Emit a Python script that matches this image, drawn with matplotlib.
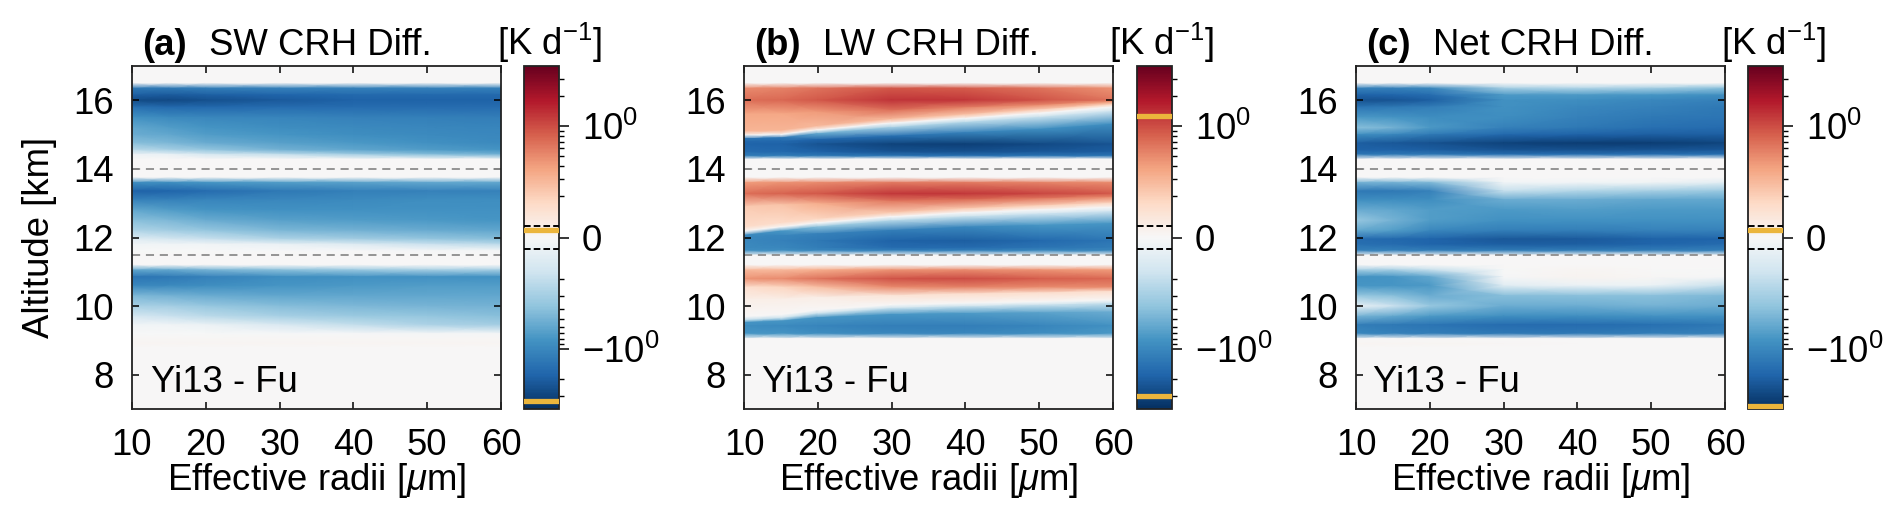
import numpy as np
import matplotlib
matplotlib.use("Agg")
import matplotlib.pyplot as plt
from matplotlib.colors import SymLogNorm

plt.rcParams['font.family'] = ['Liberation Sans', 'DejaVu Sans']
plt.rcParams['mathtext.fontset'] = 'custom'
plt.rcParams['mathtext.rm'] = 'Liberation Sans'
plt.rcParams['mathtext.it'] = 'Liberation Sans:italic'
plt.rcParams['mathtext.bf'] = 'Liberation Sans:bold'
plt.rcParams['axes.unicode_minus'] = True

# ---------- data ----------
radii = [10, 15, 20, 30, 40, 50, 60]

alt_ac = [17, 16.5, 16.35, 16.15, 16.0, 15.8, 15.5, 15.2, 15.0, 14.75, 14.55, 14.42, 14.28,
          13.75, 13.6, 13.35, 13.1, 12.8, 12.5, 12.2, 11.95, 11.8, 11.62, 11.48,
          11.2, 11.05, 10.85, 10.6, 10.3, 10.0, 9.7, 9.45, 9.2, 9.05, 8.9, 8.8, 7]

sw_diff = [
    [0, 0, 0, 0, 0, 0, 0],
    [0, 0, 0, 0, 0, 0, 0],
    [-1.3, -1.3, -1.2, -1.1, -1.1, -1.1, -1.1],
    [-2.0, -2.1, -2.0, -1.8, -1.7, -1.7, -1.7],
    [-2.6, -2.7, -2.5, -2.1, -1.9, -1.9, -1.9],
    [-1.5, -1.7, -1.7, -1.6, -1.6, -1.6, -1.6],
    [-.85, -.95, -1.0, -1.05, -1.1, -1.15, -1.2],
    [-.6, -.7, -.8, -.9, -.95, -1.0, -1.05],
    [-.55, -.6, -.7, -.8, -.9, -.95, -1.0],
    [-.4, -.45, -.55, -.65, -.75, -.85, -.95],
    [-.22, -.28, -.35, -.5, -.6, -.7, -.8],
    [-.08, -.1, -.15, -.2, -.3, -.4, -.5],
    [0, 0, 0, 0, 0, 0, 0],
    [0, 0, 0, 0, 0, 0, 0],
    [-.9, -.9, -.8, -.7, -.65, -.6, -.6],
    [-1.9, -1.8, -1.6, -1.3, -1.15, -1.1, -1.1],
    [-1.1, -1.1, -1.05, -1.0, -.95, -.9, -.9],
    [-.6, -.7, -.8, -.85, -.85, -.85, -.85],
    [-.4, -.45, -.55, -.65, -.7, -.75, -.8],
    [-.25, -.3, -.35, -.45, -.5, -.55, -.6],
    [-.12, -.15, -.18, -.25, -.3, -.35, -.4],
    [-.05, -.05, -.06, -.1, -.13, -.18, -.22],
    [-.01, -.01, -.01, -.02, -.02, -.03, -.03],
    [0, 0, 0, 0, 0, 0, 0],
    [0, 0, 0, 0, 0, 0, 0],
    [-.6, -.6, -.5, -.4, -.35, -.3, -.3],
    [-1.4, -1.3, -1.1, -.9, -.85, -.85, -.85],
    [-1.0, -.95, -.9, -.8, -.75, -.7, -.7],
    [-.45, -.5, -.55, -.6, -.6, -.6, -.6],
    [-.28, -.3, -.35, -.42, -.45, -.48, -.5],
    [-.15, -.18, -.22, -.28, -.32, -.36, -.4],
    [-.05, -.06, -.09, -.14, -.2, -.26, -.3],
    [-.01, -.01, -.01, -.02, -.02, -.03, -.03],
    [.02, .02, .02, .02, .02, .02, .02],
    [.03, .03, .03, .03, .03, .03, .03],
    [0, 0, 0, 0, 0, 0, 0],
    [0, 0, 0, 0, 0, 0, 0],
]

net_diff = [
    [0, 0, 0, 0, 0, 0, 0],
    [0, 0, 0, 0, 0, 0, 0],
    [-1.1, -1.1, -1.0, -.3, -.25, -.3, -.4],
    [-1.9, -1.8, -1.6, -.75, -.75, -.8, -.9],
    [-2.4, -2.3, -2.0, -.85, -.9, -1.0, -1.1],
    [-1.4, -1.3, -1.2, -.85, -1.0, -1.1, -1.3],
    [-.75, -.8, -.9, -.9, -1.1, -1.3, -1.4],
    [-.4, -.5, -.75, -1.1, -1.3, -1.5, -1.6],
    [-.9, -1.0, -1.3, -1.7, -1.9, -2.0, -2.0],
    [-2.0, -2.2, -2.4, -3.0, -3.3, -3.3, -2.9],
    [-1.9, -1.9, -2.0, -2.3, -2.4, -2.3, -2.2],
    [-1.3, -1.3, -1.3, -1.5, -1.5, -1.5, -1.5],
    [0, 0, 0, 0, 0, 0, 0],
    [0, 0, 0, 0, 0, 0, 0],
    [-.5, -.5, -.45, -.06, -.05, -.07, -.12],
    [-1.3, -1.3, -1.1, -.2, -.25, -.3, -.35],
    [-.9, -.9, -.9, -.55, -.55, -.6, -.6],
    [-.55, -.6, -.7, -.75, -.7, -.75, -.75],
    [-.35, -.5, -.7, -.85, -.85, -.85, -.85],
    [-.6, -.7, -1.0, -1.2, -1.2, -1.1, -1.1],
    [-1.6, -1.7, -1.8, -2.2, -2.1, -1.9, -1.8],
    [-1.5, -1.6, -1.8, -2.0, -2.0, -1.8, -1.6],
    [-1.1, -1.1, -1.2, -1.2, -1.2, -1.2, -1.1],
    [0, 0, 0, 0, 0, 0, 0],
    [0, 0, 0, 0, 0, 0, 0],
    [-.3, -.3, -.2, -.01, .03, .01, -.01],
    [-.85, -.8, -.6, -.02, .04, .02, -.02],
    [-.8, -.8, -.75, -.12, -.1, -.1, -.2],
    [-.35, -.4, -.55, -.42, -.4, -.4, -.45],
    [-.1, -.18, -.35, -.55, -.55, -.5, -.55],
    [-.5, -.6, -.75, -.9, -.9, -.85, -.85],
    [-1.2, -1.3, -1.4, -1.6, -1.6, -1.5, -1.3],
    [-1.0, -1.1, -1.2, -1.3, -1.3, -1.2, -1.1],
    [0, 0, 0, 0, 0, 0, 0],
    [.03, .03, .03, .02, .01, .01, .01],
    [0, 0, 0, 0, 0, 0, 0],
    [0, 0, 0, 0, 0, 0, 0],
]

# LW: the altitude of each row shifts with radius because the sign change does
alt_lw = [
    [17, 17, 17, 17, 17, 17, 17],
    [16.5, 16.5, 16.5, 16.5, 16.5, 16.5, 16.5],
    [16.35, 16.35, 16.35, 16.35, 16.35, 16.35, 16.35],
    [16.0, 16.0, 16.0, 16.0, 16.0, 16.0, 16.0],
    [15.6, 15.6, 15.65, 15.7, 15.78, 15.85, 15.95],
    [15.1, 15.12, 15.25, 15.45, 15.58, 15.72, 15.87],
    [14.98, 15.0, 15.13, 15.33, 15.47, 15.62, 15.8],
    [14.88, 14.9, 15.02, 15.2, 15.35, 15.5, 15.68],
    [14.8, 14.8, 14.85, 14.95, 15.05, 15.15, 15.3],
    [14.72, 14.72, 14.72, 14.72, 14.72, 14.72, 14.72],
    [14.5, 14.5, 14.5, 14.5, 14.5, 14.5, 14.5],
    [14.38, 14.38, 14.38, 14.38, 14.38, 14.38, 14.38],
    [14.28, 14.28, 14.28, 14.28, 14.28, 14.28, 14.28],
    [13.75, 13.75, 13.75, 13.75, 13.75, 13.75, 13.75],
    [13.6, 13.6, 13.6, 13.6, 13.6, 13.6, 13.6],
    [13.28, 13.28, 13.28, 13.28, 13.28, 13.28, 13.28],
    [12.9, 12.95, 12.98, 13.05, 13.1, 13.13, 13.17],
    [12.3, 12.42, 12.54, 12.72, 12.84, 12.92, 13.0],
    [12.18, 12.3, 12.42, 12.6, 12.72, 12.8, 12.88],
    [12.06, 12.18, 12.3, 12.48, 12.6, 12.68, 12.76],
    [12.0, 12.05, 12.1, 12.2, 12.3, 12.35, 12.4],
    [11.9, 11.9, 11.9, 11.9, 11.9, 11.9, 11.9],
    [11.7, 11.7, 11.7, 11.7, 11.7, 11.7, 11.7],
    [11.62, 11.62, 11.62, 11.62, 11.62, 11.62, 11.62],
    [11.48, 11.48, 11.48, 11.48, 11.48, 11.48, 11.48],
    [11.2, 11.2, 11.2, 11.2, 11.2, 11.2, 11.2],
    [11.05, 11.05, 11.05, 11.05, 11.05, 11.05, 11.05],
    [10.8, 10.8, 10.8, 10.8, 10.8, 10.8, 10.8],
    [10.55, 10.55, 10.55, 10.55, 10.55, 10.55, 10.55],
    [10.2, 10.2, 10.25, 10.3, 10.35, 10.38, 10.42],
    [9.68, 9.74, 9.88, 10.03, 10.08, 10.12, 10.17],
    [9.58, 9.64, 9.78, 9.93, 9.98, 10.02, 10.07],
    [9.52, 9.56, 9.66, 9.75, 9.78, 9.8, 9.82],
    [9.42, 9.42, 9.42, 9.42, 9.42, 9.42, 9.42],
    [9.2, 9.2, 9.2, 9.2, 9.2, 9.2, 9.2],
    [9.05, 9.05, 9.05, 9.05, 9.05, 9.05, 9.05],
    [8.8, 8.8, 8.8, 8.8, 8.8, 8.8, 8.8],
    [7, 7, 7, 7, 7, 7, 7],
]

lw_diff = [
    [0, 0, 0, 0, 0, 0, 0],
    [0, 0, 0, 0, 0, 0, 0],
    [.5, .55, .65, .9, .85, .65, .45],
    [.7, .75, .9, 1.35, 1.3, .95, .65],
    [.36, .36, .42, .65, .55, .48, .42],
    [.3, .3, .28, .28, .24, .2, .18],
    [0, 0, 0, 0, 0, 0, 0],
    [-1.4, -1.4, -.6, -.3, -.25, -.2, -.17],
    [-1.7, -1.7, -1.8, -1.5, -1.1, -.9, -.9],
    [-1.8, -1.9, -2.3, -3.0, -3.2, -2.7, -2.3],
    [-1.6, -1.7, -1.9, -2.3, -2.4, -2.2, -2.0],
    [-1.2, -1.2, -1.3, -1.4, -1.5, -1.4, -1.4],
    [0, 0, 0, 0, 0, 0, 0],
    [0, 0, 0, 0, 0, 0, 0],
    [.4, .45, .5, .6, .6, .55, .5],
    [.7, .8, .9, 1.3, 1.3, 1.1, .9],
    [.22, .24, .32, .6, .7, .6, .5],
    [.16, .16, .18, .22, .22, .2, .18],
    [0, 0, 0, 0, 0, 0, 0],
    [-1.0, -.8, -.4, -.25, -.2, -.18, -.17],
    [-1.0, -1.05, -1.1, -1.2, -1.0, -.8, -.8],
    [-1.0, -1.1, -1.3, -1.9, -2.0, -1.7, -1.4],
    [-.95, -1.0, -1.2, -1.6, -1.6, -1.4, -1.2],
    [-.9, -.9, -1.0, -1.1, -1.1, -1.0, -1.0],
    [0, 0, 0, 0, 0, 0, 0],
    [0, 0, 0, 0, 0, 0, 0],
    [.28, .28, .32, .45, .5, .45, .42],
    [.45, .5, .65, .95, 1.0, .85, .75],
    [.15, .18, .25, .5, .55, .5, .5],
    [.1, .1, .1, .13, .15, .15, .15],
    [0, 0, 0, 0, 0, 0, 0],
    [-.25, -.2, -.2, -.2, -.2, -.2, -.2],
    [-.8, -.8, -.8, -.8, -.75, -.65, -.55],
    [-.9, -.95, -1.05, -1.2, -1.2, -1.05, -.85],
    [-.8, -.8, -.9, -1.0, -1.0, -.9, -.75],
    [0, 0, 0, 0, 0, 0, 0],
    [0, 0, 0, 0, 0, 0, 0],
    [0, 0, 0, 0, 0, 0, 0],
]

panel_letters = ['(a)', '(b)', '(c)']
panel_titles = ['SW CRH Diff.', 'LW CRH Diff.', 'Net CRH Diff.']
extremes = [(0.07, -3.3), (1.27, -2.96), (0.07, -3.7)]
scheme_label = 'Yi13 - Fu'
layer_lines = [14, 11.5]
xticks = [10, 20, 30, 40, 50, 60]
yticks = [8, 10, 12, 14, 16]
minor_cb = [-3, -2, -.9, -.8, -.7, -.6, -.5, -.4, -.3, -.2,
            .2, .3, .4, .5, .6, .7, .8, .9, 2, 3]

# ---------- layout (pixels of the 1892x516 figure) ----------
W, H = 1892, 516
FS = 26.3
ax_left = [132, 744, 1356]
cb_left = [524, 1137, 1748]
letter_x = [142, 754, 1366]
title_x = [209, 823, 1433]
note_x = [151, 762, 1373]
cblabel_x = [549, 1161, 1773]
top, bottom = 66, 409
ax_w, cb_w = 369, 35


def rect(l, w):
    return [l / W, 1 - bottom / H, w / W, (bottom - top) / H]


fig = plt.figure(figsize=(W / 100, H / 100), dpi=100, facecolor='white')
norm = SymLogNorm(linthresh=0.1, linscale=0.1, vmin=-4, vmax=4, base=10)
xx = np.array(radii, dtype=float)
panels = [
    (np.array(alt_ac, dtype=float), np.array(sw_diff, dtype=float)),
    (np.array(alt_lw, dtype=float), np.array(lw_diff, dtype=float)),
    (np.array(alt_ac, dtype=float), np.array(net_diff, dtype=float)),
]

for i, (zz, vv) in enumerate(panels):
    ax = fig.add_axes(rect(ax_left[i], ax_w))
    X = np.tile(xx, (vv.shape[0], 1))
    Z = zz if zz.ndim == 2 else np.tile(zz[:, None], (1, len(radii)))
    mesh = ax.pcolormesh(X, Z, vv, cmap='RdBu_r', norm=norm, shading='gouraud')
    for y in layer_lines:
        ax.axhline(y, color='#8c8c8c', ls=(0, (4.5, 3.2)), lw=1.3)
    ax.set_xlim(10, 60)
    ax.set_ylim(7, 17)
    ax.set_xticks(xticks)
    ax.set_yticks(yticks)
    ax.tick_params(axis='x', which='major', direction='in', top=True, length=5.2,
                   width=1.1, labelsize=FS, pad=14)
    ax.tick_params(axis='y', which='major', direction='in', right=True, length=5.2,
                   width=1.1, labelsize=FS, pad=13)
    for s in ax.spines.values():
        s.set_linewidth(1.3)
        s.set_color('#222222')
    ax.set_xlabel(r'Effective radii [$\mu$m]', fontsize=FS, labelpad=-2)
    if i == 0:
        ax.set_ylabel('Altitude [km]', fontsize=FS, labelpad=12)
    fig.text(letter_x[i] / W, 1 - 55 / H, panel_letters[i], fontsize=FS, fontweight='bold', va='baseline')
    fig.text(title_x[i] / W, 1 - 55 / H, panel_titles[i], fontsize=FS, va='baseline')
    fig.text(note_x[i] / W, 1 - 392 / H, scheme_label, fontsize=FS, va='baseline')

    cax = fig.add_axes(rect(cb_left[i], cb_w))
    cb = fig.colorbar(mesh, cax=cax)
    cb.set_ticks([-1, 0, 1], labels=[r'$-10^{0}$', '0', r'$10^{0}$'])
    cb.set_ticks(minor_cb, minor=True)
    cax.tick_params(axis='y', which='major', length=7.2, width=1.1, labelsize=FS, pad=9, right=True)
    cax.tick_params(axis='y', which='minor', length=3.6, width=1.0, right=True)
    cb.outline.set_linewidth(1.3)
    cb.outline.set_edgecolor('#222222')
    for v in (0.1, -0.1):
        cax.axhline(v, color='black', ls=(0, (3.4, 1.6)), lw=1.4, zorder=4)
    for v in extremes[i]:
        cax.axhline(v, color='#EBB53C', lw=3.8, zorder=3)
    fig.text(cblabel_x[i] / W, 1 - 55 / H, r'[K d$^{-1}$]', fontsize=FS, ha='center', va='baseline')

fig.savefig('out.png', dpi=100)
